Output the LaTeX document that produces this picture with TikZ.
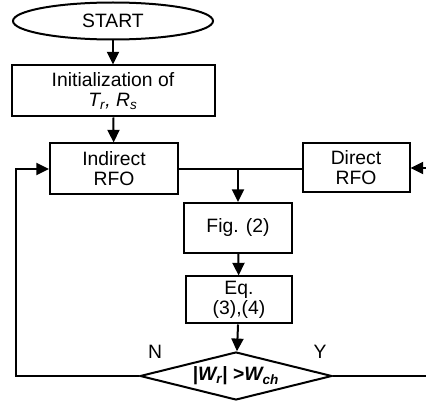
\documentclass[tikz,border=0pt]{standalone}
\usepackage{fontspec}
\setmainfont{Liberation Sans}
\usetikzlibrary{shapes.geometric,arrows.meta}

\begin{document}
\begin{tikzpicture}[x=0.75pt,y=-0.75pt,
    every node/.style={font=\fontsize{14.5}{15}\selectfont,align=center,line width=1.5pt,inner sep=0pt},
    blk/.style={draw,rectangle},
    flow/.style={line width=1.5pt,-{Triangle[width=9pt,length=9.5pt]}},
    wire/.style={line width=1.5pt}]
  \useasboundingbox (0,0) rectangle (426,410);
  \fill[white] (0,0) rectangle (426,410);
  \node[draw,ellipse,minimum width=150pt,minimum height=27.75pt] (start) at (113,21) {START};
  \node[blk,minimum width=152.25pt,minimum height=38.25pt] (init) at (113,91) {Initialization of\\\textit{T\textsubscript{r}, R\textsubscript{s}}};
  \node[blk,minimum width=96pt,minimum height=38.25pt] (ind) at (114,169) {Indirect\\RFO};
  \node[blk,minimum width=80.25pt,minimum height=36.75pt] (dir) at (356,168) {Direct\\RFO};
  \node[blk,minimum width=81pt,minimum height=37.5pt] (fig) at (238,228) {Fig. (2)};
  \node[blk,minimum width=79.5pt,minimum height=35.25pt] (eq) at (239,300) {Eq.\\(3),(4)};
  \node[draw,diamond,shape aspect=4,minimum width=144pt,minimum height=36pt] (dec) at (236,376) {\textbf{|\textit{W\textsubscript{r}}| >\textit{W\textsubscript{ch}}}};
  \node (no) at (155,352) {N};
  \node (yes) at (320,352) {Y};
  \coordinate (jn) at (238,169);
  \coordinate (lft) at (16,376);
  \coordinate (rgt) at (432,376);
  \draw[flow] (start) -- (init);
  \draw[flow] (init) -- (ind);
  \draw[wire] (ind.east) -- (dir.west |- ind.east);
  \draw[flow] (jn) -- (fig);
  \draw[flow] (fig) -- (eq);
  \draw[flow] (eq) -- (dec);
  \draw[flow] (dec.west) -- (lft) |- (ind.west);
  \draw[flow] (dec.east) -- (rgt) |- (dir.east);
\end{tikzpicture}
\end{document}
